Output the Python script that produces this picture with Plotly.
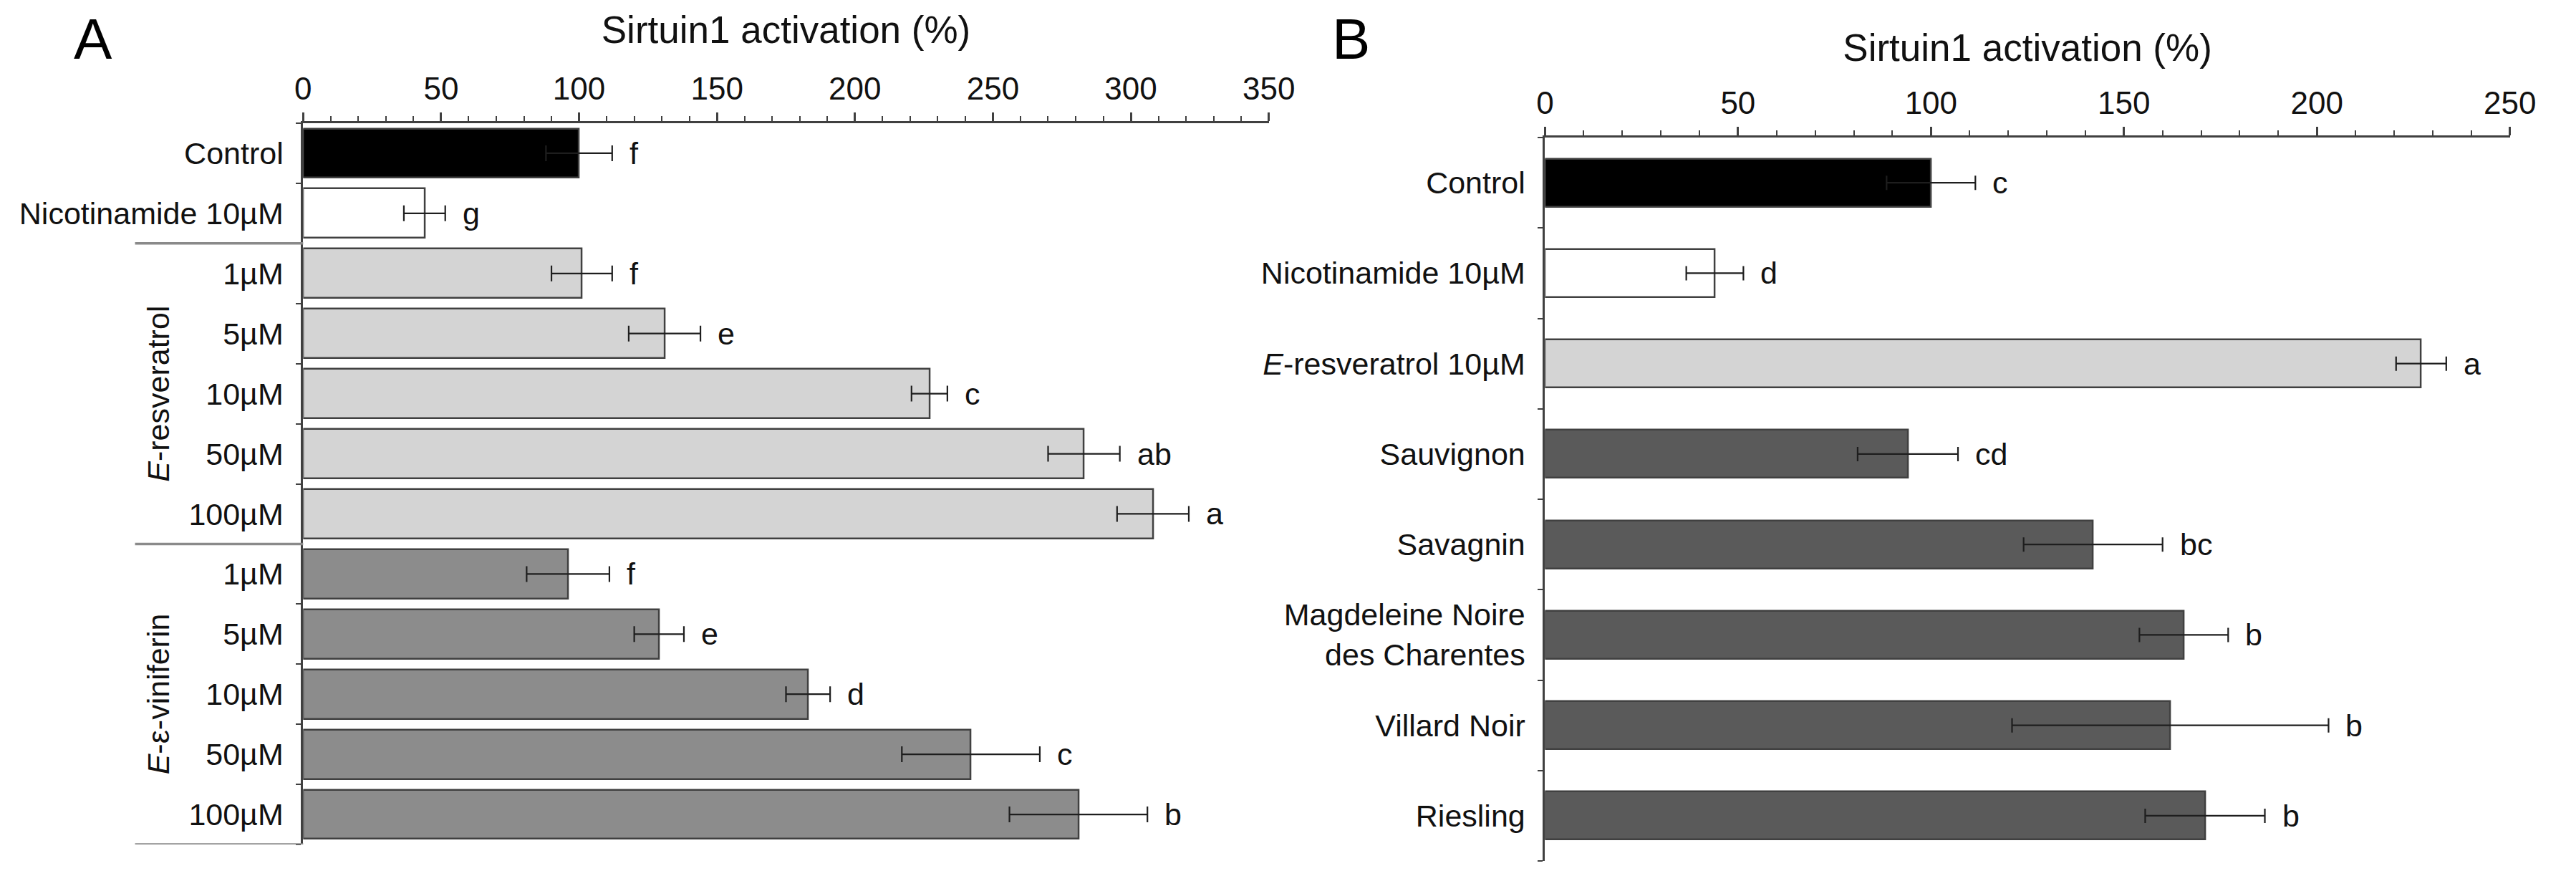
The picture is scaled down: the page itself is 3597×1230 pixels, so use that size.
import plotly.graph_objects as go

W, H = 3597, 1230
FONT = "Liberation Sans, Arial, sans-serif"

# ---------------- Panel A data ----------------
a_labels = ["Control", "Nicotinamide 10µM",
            "1µM", "5µM", "10µM", "50µM", "100µM",
            "1µM", "5µM", "10µM", "50µM", "100µM"]
a_values = [100, 44, 101, 131, 227, 283, 308, 96, 129, 183, 242, 281]
a_errors = [12, 7.5, 11, 13, 6.5, 13, 13, 15, 9, 8, 25, 25]
a_letters = ["f", "g", "f", "e", "c", "ab", "a", "f", "e", "d", "c", "b"]
a_colors = ["#000000", "#ffffff"] + ["#d4d4d4"] * 5 + ["#8c8c8c"] * 5
a_groups = [("<i>E</i>-resveratrol", 2, 6), ("<i>E</i>-ε-viniferin", 7, 11)]
a_separators = [1.5, 6.5, 11.5]

# ---------------- Panel B data ----------------
b_labels = ["Control", "Nicotinamide 10µM", "<i>E</i>-resveratrol 10µM",
            "Sauvignon", "Savagnin",
            "Magdeleine Noire<br>des Charentes",
            "Villard Noir", "Riesling"]
b_values = [100, 44, 227, 94, 142, 165.5, 162, 171]
b_errors = [11.5, 7.4, 6.5, 13, 18, 11.5, 41, 15.5]
b_letters = ["c", "d", "a", "cd", "bc", "b", "b", "b"]
b_colors = ["#000000", "#ffffff", "#d4d4d4"] + ["#5a5a5a"] * 5

AX_TITLE = "Sirtuin1 activation (%)"

fig = go.Figure()

a_pos = list(range(len(a_labels)))
b_pos = list(range(len(b_labels)))

fig.add_trace(go.Bar(
    x=a_values, y=a_pos, orientation="h", width=0.82,
    marker=dict(color=a_colors, line=dict(color="#404040", width=2.5)),
    error_x=dict(type="data", array=a_errors, color="#1e1e1e", thickness=2.2, width=11),
    xaxis="x", yaxis="y", showlegend=False))

fig.add_trace(go.Bar(
    x=b_values, y=b_pos, orientation="h", width=0.53,
    marker=dict(color=b_colors, line=dict(color="#404040", width=2.5)),
    error_x=dict(type="data", array=b_errors, color="#1e1e1e", thickness=2.2, width=10),
    xaxis="x2", yaxis="y2", showlegend=False))

ann = []
for v, e, l, p in zip(a_values, a_errors, a_letters, a_pos):
    ann.append(dict(x=v + e, y=p, xref="x", yref="y", text=l, showarrow=False,
                    xanchor="left", xshift=22, font=dict(size=43, color="#111", family=FONT)))
for v, e, l, p in zip(b_values, b_errors, b_letters, b_pos):
    ann.append(dict(x=v + e, y=p, xref="x2", yref="y2", text=l, showarrow=False,
                    xanchor="left", xshift=22, font=dict(size=43, color="#111", family=FONT)))
for name, i0, i1 in a_groups:
    ann.append(dict(x=212 / W, y=(i0 + i1) / 2, xref="paper", yref="y", text=name,
                    textangle=-90, showarrow=False, xanchor="center", yanchor="middle",
                    font=dict(size=43, color="#111", family=FONT)))
ann.append(dict(x=120 / W, y=1 - 55 / H, xref="paper", yref="paper", text="A", showarrow=False,
                xanchor="center", yanchor="middle", font=dict(size=80, color="#000", family=FONT)))
ann.append(dict(x=1900 / W, y=1 - 55 / H, xref="paper", yref="paper", text="B", showarrow=False,
                xanchor="center", yanchor="middle", font=dict(size=80, color="#000", family=FONT)))

shapes = []
for s in a_separators:
    shapes.append(dict(type="line", xref="paper", yref="y", x0=179 / W, x1=417 / W, y0=s, y1=s,
                       line=dict(color="#8a8a8a", width=3.5)))

tickfont = dict(size=44, color="#111", family=FONT)


def xaxis_cfg(dom, rng, anchor, standoff):
    return dict(domain=dom, range=rng, anchor=anchor, side="top", dtick=50, tick0=0,
                ticks="outside", ticklen=12, tickwidth=2.5, tickcolor="#404040",
                showline=True, linecolor="#404040", linewidth=3,
                minor=dict(dtick=10, tick0=0, ticks="outside", ticklen=7, tickwidth=2, tickcolor="#404040"),
                showgrid=False, zeroline=False, tickfont=tickfont,
                title=dict(text=AX_TITLE, font=dict(size=53, color="#111", family=FONT), standoff=standoff),
                fixedrange=True)


def yaxis_cfg(dom, n, labels, anchor):
    return dict(domain=dom, range=[n - 0.5, -0.5], anchor=anchor,
                tickmode="array", tickvals=list(range(n)), ticktext=labels,
                ticks="", showline=True, linecolor="#404040", linewidth=3,
                minor=dict(tickmode="linear", tick0=-0.5, dtick=1, ticks="outside", ticklen=7,
                           tickwidth=2, tickcolor="#404040"),
                showgrid=False, zeroline=False, tickfont=dict(size=43, color="#111", family=FONT),
                ticklabelstandoff=16, fixedrange=True)


fig.update_layout(
    width=W, height=H, autosize=False,
    margin=dict(l=0, r=0, t=0, b=0),
    paper_bgcolor="white", plot_bgcolor="white",
    font=dict(family=FONT, color="#111"),
    bargap=0,
    xaxis=xaxis_cfg([417 / W, 1784 / W], [0, 350], "y", 22),
    yaxis=yaxis_cfg([1 - 1179 / H, 1 - 172 / H], len(a_labels), a_labels, "x"),
    xaxis2=xaxis_cfg([2175 / W, 3541 / W], [0, 250], "y2", 17),
    yaxis2=yaxis_cfg([1 - 1202 / H, 1 - 192 / H], len(b_labels), b_labels, "x2"),
    annotations=ann, shapes=shapes,
)

fig.write_html("out.html", config={"displayModeBar": False},
               post_script="document.body.style.margin='0px';")
